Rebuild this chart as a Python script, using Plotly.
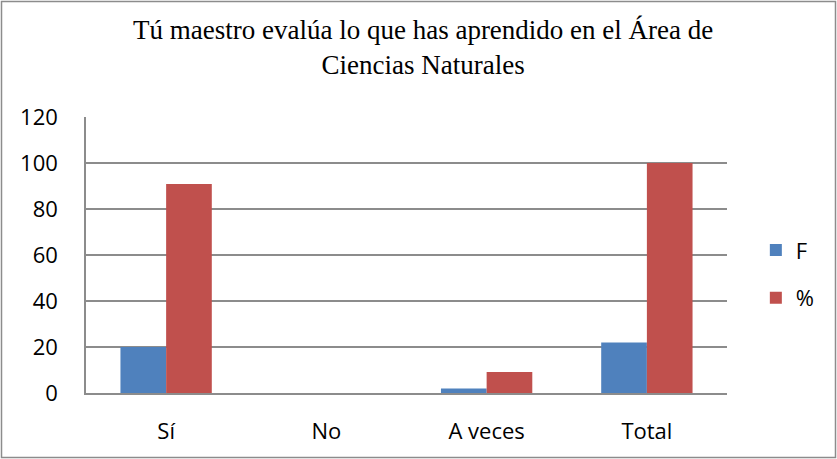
import plotly.graph_objects as go

categories = ["Sí", "No", "A veces", "Total"]
freq = [20, 0, 2, 22]
percent = [90.9, 0, 9.09, 100]

W, H = 837, 459
L, R, T, B = 86, 110, 117, 66
pw, ph = W - L - R, H - T - B

fig = go.Figure()
fig.add_trace(go.Bar(x=categories, y=freq, name="F", legendgroup="f",
                     marker=dict(color="#4F81BD", line=dict(width=0))))
fig.add_trace(go.Bar(x=categories, y=percent, name="%", legendgroup="p",
                     marker=dict(color="#C0504D", line=dict(width=0))))

# outer chart border
fig.add_shape(
    type="rect", xref="paper", yref="paper",
    x0=(1.5 - L) / pw, x1=(W - 1.5 - L) / pw,
    y0=-(H - 1.5 - T - ph) / ph, y1=1 + (T - 1.5) / ph,
    line=dict(color="#8C8C8C", width=1.5), layer="below",
)

# title as an annotation so it sits where the reference puts it
fig.add_annotation(
    text="Tú maestro evalúa lo que has aprendido en el Área de<br>Ciencias Naturales",
    xref="paper", yref="paper", x=(423 - L) / pw, y=1 + (T - 47) / ph,
    xanchor="center", yanchor="middle", showarrow=False,
    font=dict(family="Liberation Serif, serif", size=27, color="black"),
)

fig.update_layout(
    width=W, height=H,
    margin=dict(l=L, r=R, t=T, b=B),
    paper_bgcolor="white", plot_bgcolor="white",
    barmode="group", bargap=0.43, bargroupgap=0,
    font=dict(family="Open Sans, sans-serif", size=22, color="black"),
    xaxis=dict(showgrid=False, showline=True, linecolor="#8C8C8C", linewidth=1.5,
               ticks="", tickfont=dict(size=22), ticklabelstandoff=18),
    yaxis=dict(range=[0, 120], dtick=20, showgrid=True, gridcolor="#8C8C8C", gridwidth=1.5,
               showline=True, linecolor="#8C8C8C", linewidth=1.5, zeroline=False,
               ticks="", tickfont=dict(size=22), ticklabelstandoff=22),
    legend=dict(x=1.045, xanchor="left", y=0.43, yanchor="middle",
                font=dict(size=22), itemwidth=30, tracegroupgap=16,
                bgcolor="rgba(0,0,0,0)"),
    showlegend=True,
)

fig.write_html("out.html", config={"displayModeBar": False},
               post_script="document.body.style.margin='0';")
